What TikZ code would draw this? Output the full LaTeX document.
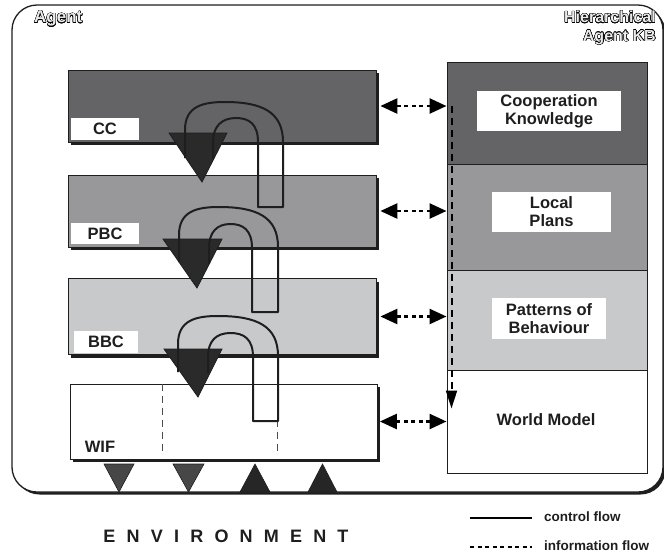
\documentclass[tikz,border=0pt]{standalone}
\usepackage{fontspec}
\setmainfont{Liberation Sans}
\usepackage{contour}
\contourlength{0.4pt}
\contournumber{16}
\usetikzlibrary{shadows,arrows.meta}

\definecolor{dk}{RGB}{100,100,102}
\definecolor{md}{RGB}{152,152,155}
\definecolor{lt}{RGB}{200,201,203}
\definecolor{trif}{RGB}{42,42,42}
\definecolor{edgec}{RGB}{30,30,30}
\definecolor{txt}{RGB}{30,30,30}

\begin{document}
\begin{tikzpicture}[x=1pt,y=-1pt,
  layerbox/.style={draw=edgec, line width=0.8pt, minimum width=308pt, minimum height=72pt, inner sep=0pt,
     drop shadow={shadow xshift=3pt, shadow yshift=-3pt, fill=edgec, opacity=1}},
  kbbox/.style={draw=edgec, line width=1pt, minimum width=200pt, inner sep=0pt},
  lbl/.style={fill=white, text=txt, font=\bfseries\fontsize{16.5}{18}\selectfont, align=center, inner sep=0pt},
  legtext/.style={text=txt, font=\bfseries\fontsize{13.5}{15}\selectfont, anchor=west, inner sep=0pt},
  titletext/.style={font=\bfseries\fontsize{16}{18.5}\selectfont, inner sep=0pt},
  infoarrow/.style={draw=black, line width=2.6pt, dash pattern=on 4pt off 3.5pt,
     {Triangle[length=17pt,width=15pt]}-{Triangle[length=17pt,width=15pt]}, shorten <=0pt},
  infodown/.style={draw=black, line width=2pt, dash pattern=on 7pt off 5pt, -{Triangle[length=18pt,width=11pt]}},
  ctrlline/.style={draw=black, line width=2.6pt},
  infoline/.style={draw=black, line width=2.6pt, dash pattern=on 4pt off 3.5pt},
  tube/.style={draw=edgec, line width=2pt, line join=round},
  bigtri/.style={fill=trif, draw=edgec, line width=0.8pt, line join=miter},
  downtri/.style={fill=black!72, draw=edgec, line width=0.6pt},
  uptri/.style={fill=black!85, draw=edgec, line width=0.6pt},
  wifdash/.style={draw=black!70, line width=0.9pt, dash pattern=on 7pt off 5pt}
]
\useasboundingbox (0,0) rectangle (664,558);

% outer agent frame
\draw[line width=1.3pt, draw=edgec, fill=white, rounded corners=25pt,
      drop shadow={shadow xshift=2.5pt, shadow yshift=-2.5pt, fill=edgec, opacity=1}]
      (12,5) rectangle (663,492);

\node[titletext, anchor=west, font=\bfseries\fontsize{17}{19}\selectfont] (agent) at (34,19) {{\color{black!8}\contour{black}{Agent}}};
\node[titletext, anchor=north east, align=right] (hkb) at (656,11)
   {{\color{black!8}\contour{black}{Hierarchical}}\\{\color{black!8}\contour{black}{Agent KB}}};

% control layers
\node[layerbox, fill=dk] (cc) at (222,106) {};
\node[layerbox, fill=md] (pbc) at (222,211) {};
\node[layerbox, fill=lt, minimum height=76pt] (bbc) at (222,316.5) {};
\node[layerbox, fill=white, minimum height=75pt, minimum width=307pt] (wif) at (223.5,421.5) {};

\node[lbl, minimum width=68pt, minimum height=22pt] (cclbl) at (105,129) {CC};
\node[lbl, minimum width=68pt, minimum height=21pt] (pbclbl) at (105,233.5) {PBC};
\node[lbl, minimum width=64pt, minimum height=22pt] (bbclbl) at (106,342) {BBC};
\node[lbl] (wiflbl) at (100,447) {WIF};

\draw[wifdash] ([xshift=93pt]wif.north west) -- ++(0,69);
\draw[wifdash] ([xshift=208pt]wif.north west) -- ++(0,69);

% knowledge base
\node[kbbox, fill=dk, minimum height=102pt] (ck) at (547,113) {};
\node[kbbox, fill=md, minimum height=106pt] (lp) at (547,217) {};
\node[kbbox, fill=lt, minimum height=100pt] (pb) at (547,320) {};
\node[kbbox, fill=white, minimum height=103pt] (wm) at (547,421.5) {};

\node[lbl, minimum width=144pt, minimum height=40pt] (cklbl) at (549,111) {Cooperation\\Knowledge};
\node[lbl, minimum width=119pt, minimum height=40pt] (lplbl) at (551.5,212) {Local\\Plans};
\node[lbl, minimum width=114pt, minimum height=41pt] (pblbl) at (549,318.5) {Patterns of\\Behaviour};
\node[lbl] (wmlbl) at (546,420) {World Model};

% information flow arrows
\draw[infoarrow] ([xshift=4pt]cc.east) -- (cc.east -| ck.west);
\draw[infoarrow] ([xshift=4pt]pbc.east) -- (pbc.east -| lp.west);
\draw[infoarrow] ([xshift=4pt]bbc.east) -- (bbc.east -| pb.west);
\draw[infoarrow] ([xshift=2.5pt]wif.east) -- (wif.east -| wm.west);
\draw[infodown] ([xshift=5pt]ck.west |- cc.east) -- ([xshift=5pt,yshift=13pt]wm.west);

% control flow U-arrows
\path[bigtri] (169,133) -- (227,133) -- (202,182) -- cycle;
\draw[tube] (185,158) -- (185,130) .. controls (185,106) and (203,102) .. (225,102)
   .. controls (262,102) and (283,112) .. (283,142) -- (283,207) -- (258,207) -- (258,142)
   .. controls (258,124) and (249,118) .. (236,118) .. controls (222,118) and (213,126) .. (213,142) -- (213,159);

\path[bigtri] (163,239) -- (222,239) -- (197,288) -- cycle;
\draw[tube] (179,262) -- (179,235) .. controls (179,211) and (197,207) .. (219,207)
   .. controls (257,207) and (278,217) .. (278,247) -- (278,312) -- (252,312) -- (252,248)
   .. controls (252,230) and (243,224) .. (230.5,224) .. controls (217,224) and (209,232) .. (209,248) -- (209,264);

\path[bigtri] (164,349) -- (222,349) -- (198,397) -- cycle;
\draw[tube] (178,372) -- (178,344) .. controls (178,320) and (196,316) .. (218,316)
   .. controls (257,316) and (278,326) .. (278,356) -- (278,421) -- (253,421) -- (253,357)
   .. controls (253,339) and (244,333) .. (230.5,333) .. controls (216,333) and (208,341) .. (208,357) -- (208,373);

% environment interface triangles
\path[downtri] (104,464) -- (134,464) -- (119,492) -- cycle;
\path[downtri] (173,464) -- (204,464) -- (188.5,492) -- cycle;
\path[uptri] (240,492) -- (270,492) -- (255,464) -- cycle;
\path[uptri] (308,492) -- (337,492) -- (322.5,464) -- cycle;

% environment label
\node[text=txt, font=\bfseries\fontsize{18}{20}\selectfont, inner sep=0pt] (env) at (226,536.5)
  {E\kern11.2pt N\kern11.2pt V\kern11.2pt I\kern11.2pt R\kern11.2pt O\kern11.2pt N\kern11.2pt M\kern11.2pt E\kern11.2pt N\kern11.2pt T};

% legend
\coordinate (cfa) at (470,518);
\coordinate (cfb) at (532,518);
\coordinate (ifa) at (470,547);
\coordinate (ifb) at (532,547);
\draw[ctrlline] (cfa) -- (cfb);
\draw[infoline] (ifa) -- (ifb);
\node[legtext] (cft) at (544,517) {control flow};
\node[legtext] (ift) at (544,546) {information flow};
\end{tikzpicture}
\end{document}
